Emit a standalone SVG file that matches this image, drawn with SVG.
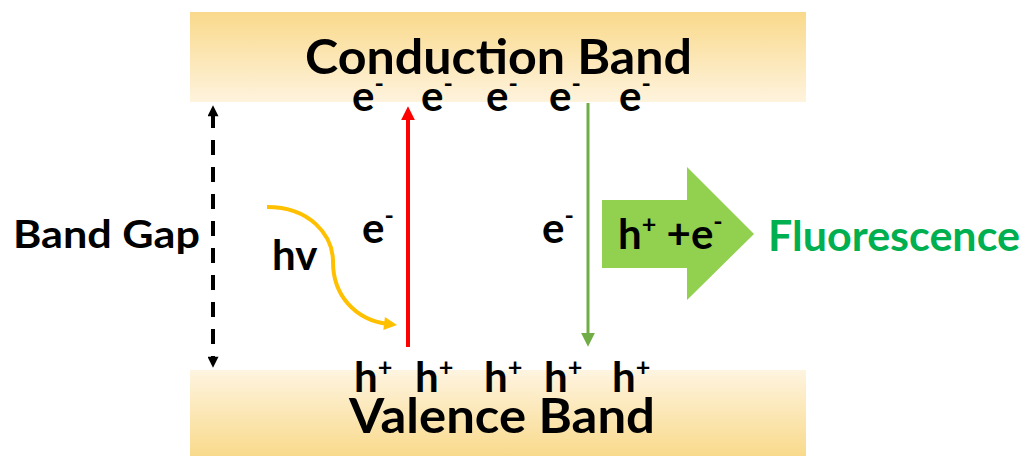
<svg xmlns="http://www.w3.org/2000/svg" width="1026" height="456" viewBox="0 0 1026 456">
<style>
text{font-family:Lato,"Liberation Sans",sans-serif;font-weight:700;fill:#000}
.big{font-size:47px}
.mid{font-size:39px}
.row{font-size:42px}
.sup{font-size:60%}
.fl{fill:#00B050}
</style>
<defs>
<linearGradient id="gTop" x1="0" y1="0" x2="0" y2="1">
<stop offset="0" stop-color="#F9D98B"/>
<stop offset="1" stop-color="#FEF3DD"/>
</linearGradient>
<linearGradient id="gBot" x1="0" y1="0" x2="0" y2="1">
<stop offset="0" stop-color="#FEF4E0"/>
<stop offset="1" stop-color="#F9DA8C"/>
</linearGradient>
<marker id="mBlack" viewBox="0 0 10 10" refX="3" refY="5" markerWidth="12" markerHeight="11" orient="auto-start-reverse" markerUnits="userSpaceOnUse"><path d="M0,0L10,5L0,10z" fill="#000"/></marker>
<marker id="mRed" viewBox="0 0 10 10" refX="3" refY="5" markerWidth="14" markerHeight="14" orient="auto" markerUnits="userSpaceOnUse"><path d="M0,0L10,5L0,10z" fill="#FF0000"/></marker>
<marker id="mGreen" viewBox="0 0 10 10" refX="3" refY="5" markerWidth="14" markerHeight="14" orient="auto" markerUnits="userSpaceOnUse"><path d="M0,0L10,5L0,10z" fill="#70AD47"/></marker>
<marker id="mYellow" viewBox="0 0 10 10" refX="3" refY="5" markerWidth="15" markerHeight="13" orient="auto" markerUnits="userSpaceOnUse"><path d="M0,0L10,5L0,10z" fill="#FFC000"/></marker>
</defs>

<g id="conduction-band">
<rect x="190" y="12" width="616" height="90" fill="url(#gTop)"/>
<text class="big" x="305" y="74" textLength="387" lengthAdjust="spacingAndGlyphs">Conduction Band</text>
</g>
<g id="valence-band">
<rect x="190" y="370" width="616" height="86" fill="url(#gBot)"/>
<text class="big" x="349" y="433" textLength="306" lengthAdjust="spacingAndGlyphs">Valence Band</text>
</g>

<g id="electrons">
<text class="row" x="352" y="111">e<tspan class="sup" dy="-19">-</tspan></text>
<text class="row" x="421" y="111">e<tspan class="sup" dy="-19">-</tspan></text>
<text class="row" x="486" y="111">e<tspan class="sup" dy="-19">-</tspan></text>
<text class="row" x="549" y="111">e<tspan class="sup" dy="-19">-</tspan></text>
<text class="row" x="619" y="111">e<tspan class="sup" dy="-19">-</tspan></text>
</g>
<g id="holes">
<text class="row" x="354" y="392">h<tspan class="sup" dy="-16">+</tspan></text>
<text class="row" x="415" y="392">h<tspan class="sup" dy="-16">+</tspan></text>
<text class="row" x="484" y="392">h<tspan class="sup" dy="-16">+</tspan></text>
<text class="row" x="544" y="392">h<tspan class="sup" dy="-16">+</tspan></text>
<text class="row" x="612" y="392">h<tspan class="sup" dy="-16">+</tspan></text>
</g>

<g id="band-gap-label">
<text class="mid" x="13" y="248" textLength="187" lengthAdjust="spacingAndGlyphs">Band Gap</text>
</g>
<g id="photon-label">
<text class="row" x="272" y="270">hv</text>
</g>
<g id="excited-electron">
<text class="row" x="362" y="243">e<tspan class="sup" dy="-19">-</tspan></text>
</g>
<g id="relaxing-electron">
<text class="row" x="542" y="243">e<tspan class="sup" dy="-19">-</tspan></text>
</g>

<g id="recombination">
<polygon points="602,200 687,200 687,167 754,234 687,300 687,268 602,268" fill="#92D050"/>
<text class="row" x="618" y="249">h<tspan class="sup" dy="-16">+</tspan><tspan dy="16"> +e</tspan><tspan class="sup" dy="-19">-</tspan></text>
</g>
<g id="fluorescence">
<text class="row fl" x="768" y="251" textLength="252" lengthAdjust="spacingAndGlyphs">Fluorescence</text>
</g>

<g id="connectors" fill="none">
<path d="M213,113V360" stroke="#000" stroke-width="4" stroke-dasharray="15 12" marker-start="url(#mBlack)" marker-end="url(#mBlack)"/>
<path d="M408,347V116" stroke="#FF0000" stroke-width="4" marker-end="url(#mRed)"/>
<path d="M588,103V337" stroke="#70AD47" stroke-width="3" marker-end="url(#mGreen)"/>
<path d="M267,207C310,207 333,235 333,262C333,295 355,320 388,324" stroke="#FFC000" stroke-width="4" marker-end="url(#mYellow)"/>
</g>
</svg>
